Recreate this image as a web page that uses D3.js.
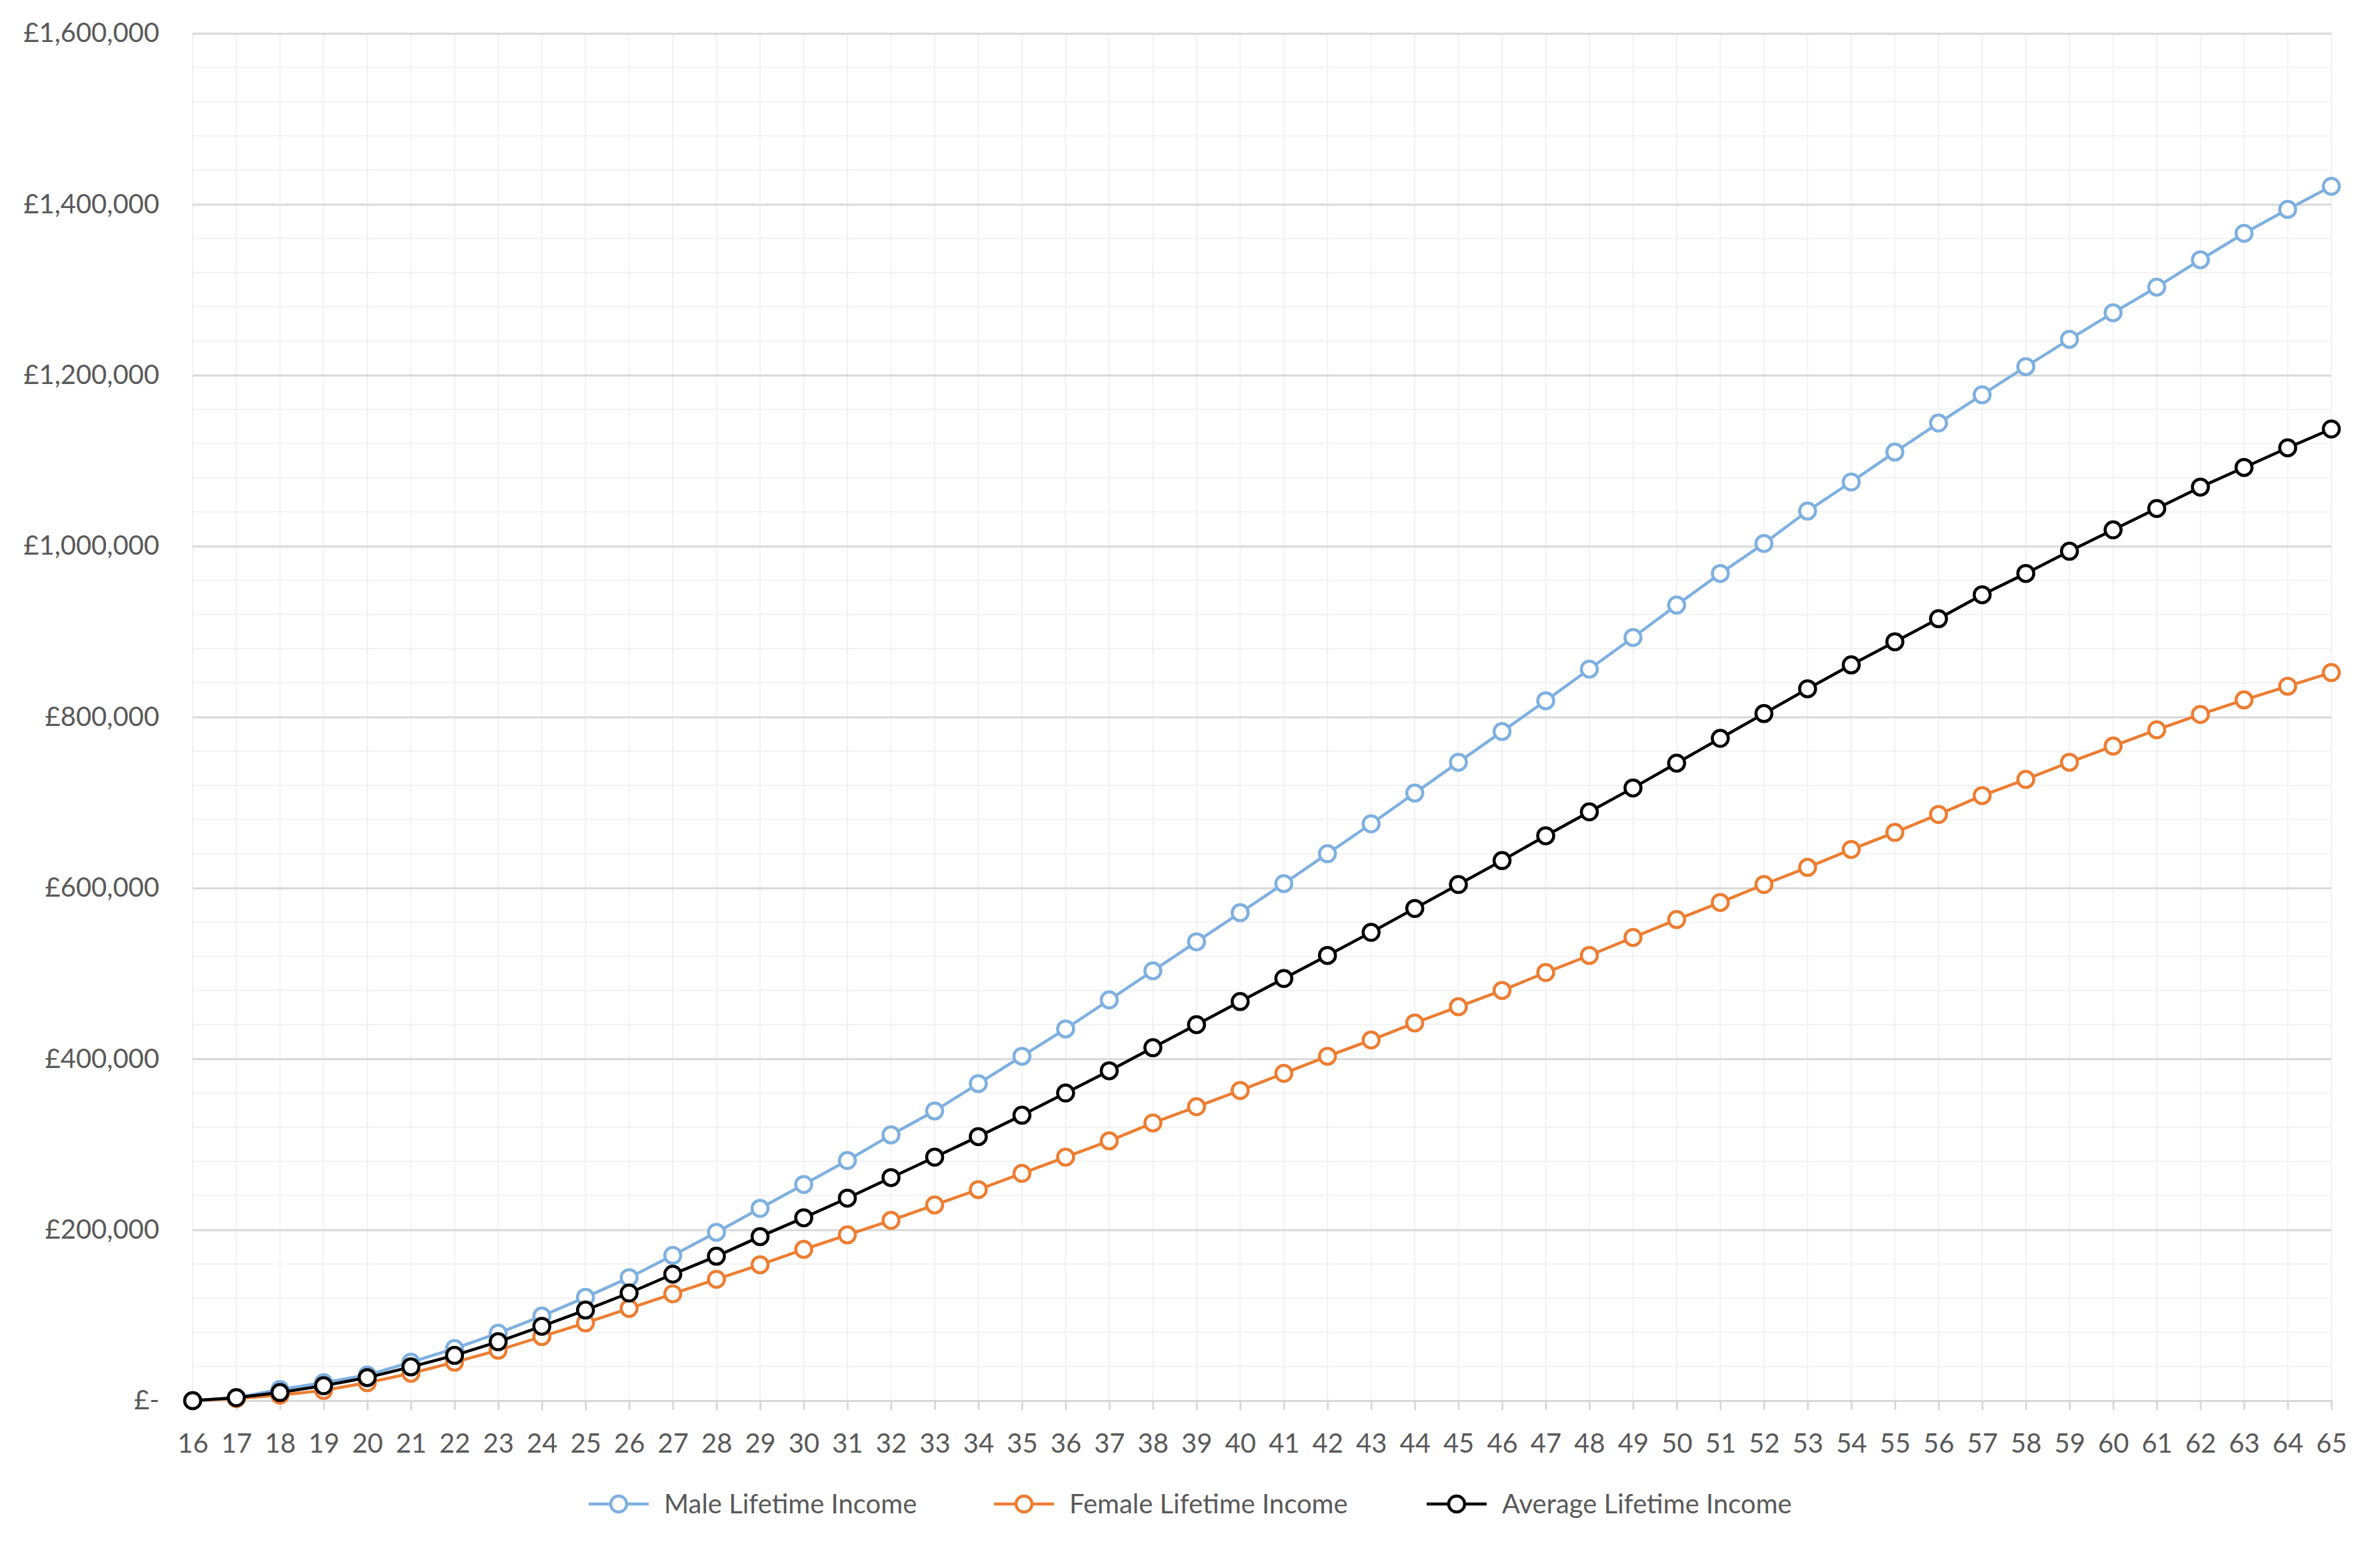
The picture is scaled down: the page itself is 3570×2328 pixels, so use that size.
<!DOCTYPE html>
<html>
<head>
<meta charset="utf-8">
<script src="https://cdn.jsdelivr.net/npm/d3@7"></script>
<style>
  html, body { margin: 0; padding: 0; background: #ffffff; }
  svg { display: block; }
  text { font-family: Lato, "Open Sans", sans-serif; fill: #595959; }
</style>
</head>
<body>
<script>
const ages = d3.range(16, 66);
const maleIncome = [0, 3500, 13000, 21000, 30000, 45000, 61000, 79000, 99000, 121000,
  144000, 170000, 197000, 225000, 253000, 281000, 311000, 339000, 371000, 403000,
  435000, 469000, 503000, 537000, 571000, 605000, 640000, 675000, 711000, 747000,
  783000, 819000, 856000, 893000, 931000, 968000, 1003000, 1041000, 1075000, 1110000,
  1144000, 1177000, 1210000, 1242000, 1273000, 1303000, 1335000, 1366000, 1394000, 1421000];
const femaleIncome = [0, 2500, 6500, 12000, 21000, 32000, 45000, 59000, 75000, 91000,
  108000, 125000, 142000, 159000, 177000, 194000, 211000, 229000, 247000, 266000,
  285000, 304000, 325000, 344000, 363000, 383000, 403000, 422000, 442000, 461000,
  480000, 501000, 521000, 542000, 563000, 583000, 604000, 624000, 645000, 665000,
  686000, 708000, 727000, 747000, 766000, 785000, 803000, 820000, 836000, 852000];
const averageIncome = [0, 3500, 9500, 17500, 27000, 39500, 53000, 69000, 87000, 106000,
  126000, 148000, 169000, 192000, 214000, 237000, 261000, 285000, 309000, 334000,
  360000, 386000, 413000, 440000, 467000, 494000, 521000, 548000, 576000, 604000,
  632000, 661000, 689000, 717000, 746000, 775000, 804000, 833000, 861000, 888000,
  915000, 943000, 968000, 994000, 1019000, 1044000, 1069000, 1092000, 1115000, 1137000];
const seriesNames = ["Male Lifetime Income", "Female Lifetime Income", "Average Lifetime Income"];
const seriesColors = ["#7eb0e0", "#ed7d31", "#000000"];
const yTickValues = [0, 200000, 400000, 600000, 800000, 1000000, 1200000, 1400000, 1600000];

const W = 3570, H = 2328;
const M = { left: 289, right: 73, top: 50, bottom: 227 };
const svg = d3.select("body").append("svg").attr("width", W).attr("height", H);

const x = d3.scaleLinear().domain([16, 65]).range([M.left, W - M.right]);
const y = d3.scaleLinear().domain([0, 1600000]).range([H - M.bottom, M.top]);

const fmt = v => v === 0 ? "£-" : "£" + d3.format(",")(v);

// minor horizontal grid
const g = svg.append("g");
g.selectAll("line.minh").data(d3.range(0, 1600001, 40000).filter(v => v % 200000 !== 0))
  .join("line")
  .attr("x1", x(16)).attr("x2", x(65))
  .attr("y1", d => y(d)).attr("y2", d => y(d))
  .attr("stroke", "#f2f2f2").attr("stroke-width", 2);
// minor vertical grid
g.selectAll("line.minv").data(ages)
  .join("line")
  .attr("x1", d => x(d)).attr("x2", d => x(d))
  .attr("y1", y(1600000)).attr("y2", y(0))
  .attr("stroke", "#f2f2f2").attr("stroke-width", 2);

// y axis with major gridlines
const yAxis = d3.axisLeft(y).tickValues(yTickValues).tickFormat(fmt)
  .tickSize(-(x(65) - x(16))).tickPadding(50);
const ya = svg.append("g").attr("transform", `translate(${M.left},0)`).call(yAxis);
ya.select(".domain").remove();
ya.selectAll(".tick line").attr("stroke", "#d9d9d9").attr("stroke-width", 3);
ya.selectAll(".tick text").attr("font-size", 40).attr("fill", "#595959")
  .style("font-family", "Lato, 'Open Sans', sans-serif");

// x axis
const xAxis = d3.axisBottom(x).tickValues(ages).tickFormat(d3.format("d"))
  .tickSize(14).tickPadding(36);
const xa = svg.append("g").attr("transform", `translate(0,${y(0)})`).call(xAxis);
xa.select(".domain").attr("stroke", "#d9d9d9").attr("stroke-width", 3);
xa.selectAll(".tick line").attr("stroke", "#d9d9d9").attr("stroke-width", 3);
xa.selectAll(".tick text").attr("font-size", 40).attr("fill", "#595959")
  .style("font-family", "Lato, 'Open Sans', sans-serif");

// series
const seriesData = [maleIncome, femaleIncome, averageIncome];
const line = d3.line().x((d, i) => x(ages[i])).y(d => y(d));
seriesData.forEach((vals, si) => {
  const sg = svg.append("g");
  sg.append("path").datum(vals)
    .attr("d", line).attr("fill", "none")
    .attr("stroke", seriesColors[si]).attr("stroke-width", 4.5)
    .attr("stroke-linejoin", "round");
  sg.selectAll("circle").data(vals).join("circle")
    .attr("cx", (d, i) => x(ages[i])).attr("cy", d => y(d))
    .attr("r", 12).attr("fill", "#ffffff")
    .attr("stroke", seriesColors[si]).attr("stroke-width", 4.5);
});

// legend
const legendX = [883, 1491, 2140];
const ly = 2256;
const lg = svg.append("g");
seriesNames.forEach((name, i) => {
  const x0 = legendX[i];
  lg.append("line").attr("x1", x0).attr("x2", x0 + 90).attr("y1", ly).attr("y2", ly)
    .attr("stroke", seriesColors[i]).attr("stroke-width", 4.5);
  lg.append("circle").attr("cx", x0 + 45).attr("cy", ly).attr("r", 12)
    .attr("fill", "#ffffff").attr("stroke", seriesColors[i]).attr("stroke-width", 4.5);
  lg.append("text").attr("x", x0 + 113).attr("y", ly).attr("dy", "0.35em")
    .attr("font-size", 40).text(name);
});
</script>
</body>
</html>
